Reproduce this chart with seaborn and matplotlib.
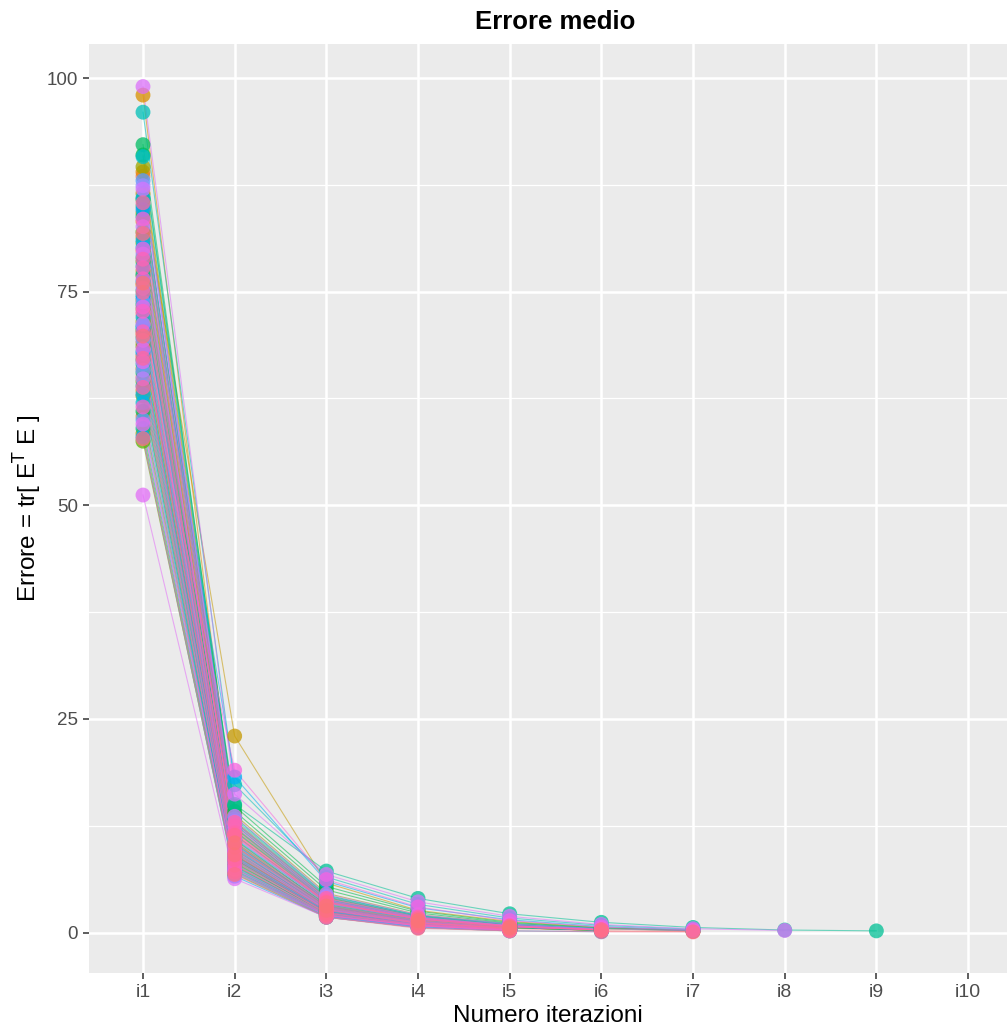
import numpy as np
import pandas as pd
import matplotlib
matplotlib.use("Agg")
import matplotlib.pyplot as plt
import seaborn as sns

# ---------------- data ----------------
iter_labels = ["i1", "i2", "i3", "i4", "i5", "i6", "i7", "i8", "i9", "i10"]

i1 = [72.4, 88.5, 65.0, 79.8, 60.4, 83.2, 70.1, 89.0, 67.5, 75.8,
      98.0, 63.4, 81.4, 69.0, 86.5, 74.0, 58.4, 77.4, 84.2, 66.0,
      71.5, 89.6, 62.8, 76.9, 73.0, 80.7, 64.5, 68.6, 57.5, 82.0,
      78.5, 70.5, 85.8, 67.0, 91.0, 73.5, 61.0, 92.2, 65.5, 79.0,
      75.1, 83.8, 59.0, 85.0, 71.0, 69.6, 77.0, 64.0, 96.0, 66.5,
      74.6, 90.8, 68.0, 62.0, 78.0, 72.0, 80.2, 86.0, 63.0, 76.2,
      81.0, 70.8, 58.0, 74.3, 84.6, 67.8, 88.0, 60.0, 73.8, 65.8,
      87.4, 69.3, 79.4, 75.4, 64.8, 82.6, 71.2, 87.0, 99.0, 51.2,
      66.8, 59.5, 73.2, 80.0, 68.3, 83.5, 76.5, 61.5, 72.7, 77.8,
      70.3, 78.8, 63.8, 85.4, 67.2, 74.9, 81.8, 57.8, 69.8, 76.0]

i2 = [9.8, 11.2, 8.0, 10.5, 7.4, 12.0, 8.8, 13.1, 9.2, 10.1,
      12.6, 7.9, 11.5, 8.5, 23.0, 9.6, 7.1, 10.8, 12.3, 8.2,
      9.0, 13.8, 7.6, 10.2, 9.4, 11.8, 8.3, 8.9, 6.9, 12.2,
      10.6, 9.1, 12.9, 8.6, 14.2, 14.8, 7.8, 13.5, 8.1, 10.9,
      9.7, 11.9, 7.3, 15.0, 9.3, 8.7, 10.4, 7.7, 17.3, 8.4,
      9.9, 13.3, 8.6, 7.5, 11.0, 9.5, 11.4, 12.7, 7.2, 10.0,
      18.2, 9.0, 6.6, 10.3, 12.4, 8.8, 13.0, 7.0, 9.8, 8.0,
      12.8, 8.9, 11.1, 10.7, 7.6, 12.1, 9.2, 13.6, 16.2, 6.3,
      8.3, 7.4, 9.6, 11.3, 19.0, 12.5, 10.2, 7.1, 9.4, 11.7,
      8.7, 11.6, 7.9, 12.9, 8.5, 10.0, 11.4, 6.8, 9.1, 10.5]

i3 = [2.8, 3.4, 2.2, 3.0, 2.0, 3.8, 2.5, 4.2, 2.6, 3.1,
      4.0, 2.1, 3.5, 2.4, 5.8, 2.9, 1.9, 3.2, 3.9, 2.3,
      2.7, 4.6, 2.0, 3.0, 2.8, 3.6, 2.2, 2.5, 1.8, 3.7,
      3.3, 2.6, 4.1, 2.4, 5.0, 5.4, 2.1, 4.4, 2.3, 3.2,
      2.9, 3.7, 2.0, 7.2, 2.7, 2.5, 3.1, 2.1, 6.5, 2.4,
      2.8, 4.3, 2.5, 2.0, 3.4, 2.7, 3.5, 3.9, 1.9, 3.0,
      6.0, 2.6, 1.8, 3.1, 3.8, 2.5, 4.2, 1.9, 2.9, 2.2,
      4.0, 2.6, 3.4, 3.2, 2.1, 3.7, 2.7, 4.5, 6.8, 1.8,
      2.3, 2.0, 2.8, 3.5, 6.2, 3.8, 3.0, 2.0, 2.7, 3.6,
      2.4, 3.6, 2.1, 4.0, 2.3, 2.9, 3.5, 1.8, 2.6, 3.1]

i4 = [1.2, 1.5, 0.9, 1.3, 0.8, 1.7, 1.0, 1.9, 1.1, 1.4,
      1.8, 0.8, 1.6, 1.0, 2.6, 1.2, 0.7, 1.4, 1.8, 0.9,
      1.1, 2.1, 0.8, 1.3, 1.2, 1.6, 0.9, 1.0, 0.6, 1.7,
      1.5, 1.1, 1.9, 1.0, 2.3, 2.5, 0.8, 2.0, 0.9, 1.4,
      1.2, 1.7, 0.8, 4.0, 1.1, 1.0, 1.3, 0.8, 3.3, 1.0,
      1.2, 2.0, 1.0, 0.8, 1.5, 1.1, 1.6, 1.8, 0.7, 1.3,
      2.9, 1.1, 0.6, 1.3, 1.7, 1.0, 1.9, 0.7, 1.2, 0.9,
      1.8, 1.1, 1.5, 1.4, 0.8, 1.7, 1.1, 2.1, 3.6, 0.6,
      0.9, 0.8, 1.2, 1.6, 3.0, 1.7, 1.3, 0.8, 1.1, 1.6,
      1.0, 1.6, 0.8, 1.8, 0.9, 1.2, 1.6, 0.5, 1.1, 1.4]

i5 = [0.5, 0.7, 0.4, 0.6, 0.3, 0.8, 0.4, 0.9, 0.5, 0.6,
      0.8, 0.3, 0.7, 0.4, 1.3, 0.5, 0.3, 0.6, 0.8, 0.4,
      0.5, 1.0, 0.3, 0.6, 0.5, 0.7, 0.4, 0.4, 0.2, 0.8,
      0.7, 0.5, 0.9, 0.4, 1.1, 1.2, 0.3, 1.0, 0.4, 0.6,
      0.5, 0.8, 0.3, 2.2, 0.5, 0.4, 0.6, 0.3, 1.7, 0.4,
      0.5, 1.0, 0.4, 0.3, 0.7, 0.5, 0.7, 0.8, 0.3, 0.6,
      1.5, 0.5, 0.2, 0.6, 0.8, 0.4, 0.9, 0.3, 0.5, 0.4,
      0.8, 0.5, 0.7, 0.6, 0.3, 0.8, 0.5, 1.0, 1.9, 0.2,
      0.4, 0.3, 0.5, 0.7, 1.4, 0.8, 0.6, 0.3, 0.5, 0.7,
      0.4, 0.7, 0.3, 0.8, 0.4, 0.5, 0.7, 0.2, 0.5, 0.6]

# later iterations: only some runs reach them (series index -> value)
i6_series = [1, 5, 7, 10, 12, 14, 18, 21, 25, 29, 32, 34, 35, 37, 41, 43, 48,
             51, 56, 57, 60, 64, 66, 70, 75, 77, 78, 83, 84, 85, 89, 91, 93,
             96, 0, 3, 9, 17, 23, 30, 39, 54, 59, 97, 62]
i6 = [0.30, 0.35, 0.40, 0.35, 0.30, 0.60, 0.35, 0.45, 0.30, 0.35, 0.40, 0.50,
      0.55, 0.45, 0.35, 1.20, 0.85, 0.45, 0.30, 0.35, 0.70, 0.35, 0.40, 0.35,
      0.35, 0.45, 0.95, 0.30, 0.65, 0.35, 0.30, 0.30, 0.35, 0.30, 0.20, 0.25,
      0.25, 0.25, 0.25, 0.30, 0.25, 0.30, 0.25, 0.10, 0.10]
i7_series = [43, 78, 48, 84, 60, 14, 35, 34, 21, 77, 0, 97]
i7 = [0.60, 0.45, 0.40, 0.30, 0.30, 0.25, 0.25, 0.22, 0.20, 0.20, 0.12, 0.08]
i8_series = [43, 78]
i8 = [0.30, 0.25]
i9_series = [43]
i9 = [0.20]

# ---------------- build long table ----------------
n_series = len(i1)
rows = []
for k in range(n_series):
    for j, vals in enumerate([i1, i2, i3, i4, i5]):
        rows.append((f"s{k:03d}", j, vals[k]))
for j, (ser, vals) in enumerate([(i6_series, i6), (i7_series, i7),
                                  (i8_series, i8), (i9_series, i9)], start=5):
    for k, v in zip(ser, vals):
        rows.append((f"s{k:03d}", j, v))
df = pd.DataFrame(rows, columns=["series", "iter", "err"])
df = df.sort_values(["series", "iter"]).reset_index(drop=True)


# ---------------- ggplot-like hue palette (HCL) ----------------
def hcl_hex(h, c=100.0, l=65.0):
    hr = np.deg2rad(h)
    U, V = c * np.cos(hr), c * np.sin(hr)
    Xn, Yn, Zn = 95.047, 100.0, 108.883
    un = 4 * Xn / (Xn + 15 * Yn + 3 * Zn)
    vn = 9 * Yn / (Xn + 15 * Yn + 3 * Zn)
    Y = Yn * ((l + 16) / 116) ** 3 if l > 8 else Yn * l * (3 / 29) ** 3
    u = U / (13 * l) + un
    v = V / (13 * l) + vn
    X = 9 * Y * u / (4 * v)
    Z = -X / 3 - 5 * Y + 3 * Y / v
    M = np.array([[3.240479, -1.537150, -0.498535],
                  [-0.969256, 1.875992, 0.041556],
                  [0.055648, -0.204043, 1.057311]])
    rgb = M @ (np.array([X, Y, Z]) / 100.0)
    out = []
    for ch in rgb:
        ch = 12.92 * ch if ch <= 0.0031308 else 1.055 * ch ** (1 / 2.4) - 0.055
        out.append(min(max(ch, 0), 1))
    return tuple(out)


levels = [f"s{k:03d}" for k in range(n_series)]
hues = np.linspace(15, 375, n_series + 1)[:-1]
palette = {lev: hcl_hex(h % 360) for lev, h in zip(levels, hues)}

# ---------------- figure ----------------
W, H = 1007, 1029
fig = plt.figure(figsize=(W / 100, H / 100), dpi=100)
ax = fig.add_axes([89 / W, 56 / H, (W - 89) / W, (973 - 44) / H])
ax.set_facecolor("#EBEBEB")

sns.lineplot(data=df, x="iter", y="err", hue="series", hue_order=levels,
             palette=palette, estimator=None, sort=True, legend=False,
             linewidth=0.8, alpha=0.55, ax=ax, zorder=3)
sns.scatterplot(data=df, x="iter", y="err", hue="series", hue_order=levels,
                palette=palette, legend=False, s=115, linewidth=0,
                alpha=0.75, ax=ax, zorder=4)

ax.set_xlim(-0.589, 9.425)
ax.set_ylim(-4.73, 103.98)
ax.set_xticks(range(len(iter_labels)))
ax.set_xticklabels(iter_labels)
ax.set_yticks([0, 25, 50, 75, 100])
ax.set_yticks([12.5, 37.5, 62.5, 87.5], minor=True)

ax.grid(which="major", color="white", linewidth=1.8, zorder=0)
ax.grid(which="minor", axis="y", color="white", linewidth=0.9, zorder=0)
ax.set_axisbelow(True)
for sp in ax.spines.values():
    sp.set_visible(False)

fnt = ["Liberation Sans", "DejaVu Sans"]
ax.tick_params(axis="both", which="major", length=4, width=1.1, color="#333333",
               labelcolor="#4D4D4D", pad=4)
ax.tick_params(axis="both", which="minor", length=0)
for lab in ax.get_xticklabels():
    lab.set_family(fnt)
    lab.set_fontsize(14)
for lab in ax.get_yticklabels():
    lab.set_family(fnt)
    lab.set_fontsize(13.5)

plt.rcParams["mathtext.fontset"] = "custom"
plt.rcParams["mathtext.rm"] = "Liberation Sans"
plt.rcParams["mathtext.it"] = "Liberation Sans"

ax.set_xlabel("Numero iterazioni", family=fnt, fontsize=17.5, color="black",
              labelpad=3)
ax.set_ylabel(r"Errore = tr[ E$^{\mathrm{T}}$ E ]", family=fnt, fontsize=17.5,
              color="black", labelpad=1.5)
fig.text(555 / W, 1 - 22 / H, "Errore medio", ha="center", va="center",
         family=fnt, fontsize=18.5, fontweight="bold")

fig.savefig("out.png", dpi=100)
